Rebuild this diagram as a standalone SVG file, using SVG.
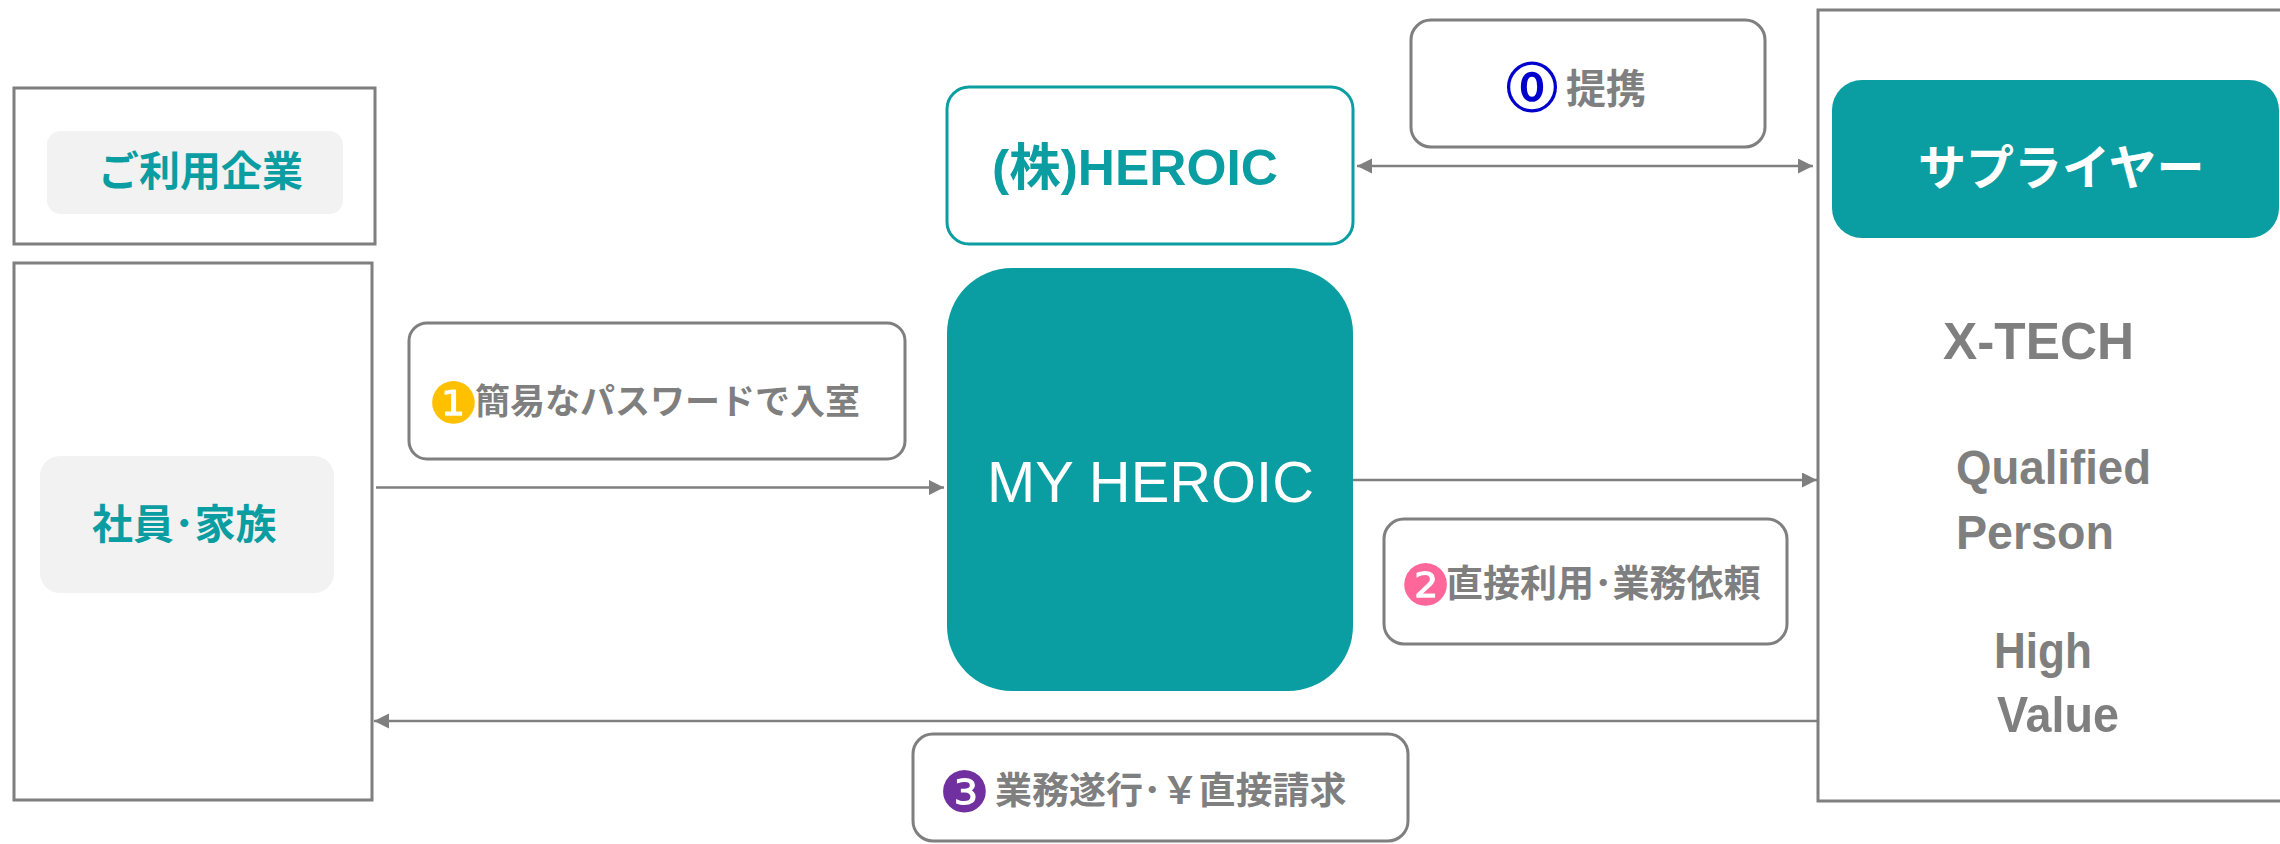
<svg xmlns="http://www.w3.org/2000/svg" width="2280" height="844" viewBox="0 0 2280 844">
<style>
.frame{fill:#ffffff;stroke:#7f7f7f;stroke-width:3}
.label{fill:#ffffff;stroke:#7f7f7f;stroke-width:3}
.chip{fill:#f2f2f2;stroke:none}
.teal{fill:#0a9da2;stroke:none}
.conn{stroke:#7f7f7f;stroke-width:2.5;fill:none}
.jp{font-family:"Noto Sans CJK JP","Noto Sans CJK SC",sans-serif;font-weight:bold}
.lat{font-family:"Liberation Sans","Noto Sans CJK JP",sans-serif}
.num{font-family:"DejaVu Sans","Noto Sans CJK JP",sans-serif;font-weight:normal}
.gray{fill:#7f7f7f}
.tc{fill:#0a9da2}
.wt{fill:#ffffff}
</style>
<defs>
<marker id="ah" markerUnits="userSpaceOnUse" markerWidth="16" markerHeight="16" refX="15" refY="7.5" orient="auto-start-reverse">
<path d="M0,0 L15,7.5 L0,15 Z" fill="#7f7f7f"/>
</marker>
</defs>

<g id="connectors">
<line class="conn" x1="1357" y1="166" x2="1813" y2="166" marker-start="url(#ah)" marker-end="url(#ah)"/>
<line class="conn" x1="376" y1="487.5" x2="944" y2="487.5" marker-end="url(#ah)"/>
<line class="conn" x1="1353" y1="480" x2="1817" y2="480" marker-end="url(#ah)"/>
<line class="conn" x1="1818" y1="721" x2="374" y2="721" marker-end="url(#ah)"/>
</g>

<g id="company">
<rect class="frame" x="14" y="88" width="361" height="156"/>
<rect class="chip" x="47" y="131" width="296" height="83" rx="14"/>
<text class="jp tc" x="98" y="186" font-size="41">ご利用企業</text>
</g>

<g id="employees">
<rect class="frame" x="14" y="263" width="358" height="537" fill="none"/>
<rect class="chip" x="40" y="456" width="294" height="137" rx="20"/>
<text class="jp tc" x="92" y="539" font-size="41">社員･家族</text>
</g>

<g id="step1">
<rect class="label" x="409" y="323" width="496" height="136" rx="18"/>
<text class="jp gray" font-size="35"><tspan class="num" x="428" y="423" font-size="57" fill="#ffc000">❶</tspan><tspan x="475" y="414">簡易なパスワードで入室</tspan></text>
</g>

<g id="heroic">
<rect x="947" y="87" width="406" height="157" rx="22" fill="#ffffff" stroke="#0a9da2" stroke-width="3"/>
<text class="lat tc" font-weight="bold" x="992" y="185" font-size="50" textLength="286" lengthAdjust="spacingAndGlyphs">(株)HEROIC</text>
</g>

<g id="myheroic">
<rect class="teal" x="947" y="268" width="406" height="423" rx="65"/>
<text class="lat wt" x="987" y="501.5" font-size="58" textLength="327" lengthAdjust="spacingAndGlyphs">MY HEROIC</text>
</g>

<g id="step0">
<rect class="label" x="1411" y="20" width="354" height="127" rx="20"/>
<text class="jp gray" font-size="40"><tspan class="num" x="1506" y="106.5" font-size="52" fill="#0000cc" stroke="#0000cc" stroke-width="1.6">⓪</tspan><tspan x="1560" y="103"> </tspan><tspan x="1566" y="103">提携</tspan></text>
</g>

<g id="step2">
<rect class="label" x="1384" y="519" width="403" height="125" rx="20"/>
<text class="jp gray" font-size="37"><tspan class="num" x="1400" y="604.5" font-size="57" fill="#ff6699">❷</tspan><tspan x="1446" y="597">直接利用･業務依頼</tspan></text>
</g>

<g id="step3">
<rect class="label" x="913" y="734" width="495" height="107" rx="20"/>
<text class="jp gray" font-size="37"><tspan class="num" x="939" y="811.5" font-size="57" fill="#7030a0">❸</tspan><tspan x="985" y="804"> </tspan><tspan x="995" y="804">業務遂行･￥直接請求</tspan></text>
</g>

<g id="supplier">
<rect class="frame" x="1818" y="10" width="500" height="791"/>
<rect class="teal" x="1832" y="80" width="447" height="158" rx="30"/>
<text class="jp wt" x="1918" y="185" font-size="48">サプライヤー</text>
<text class="lat gray" font-weight="bold" x="1943" y="359.3" font-size="51" textLength="191" lengthAdjust="spacingAndGlyphs">X-TECH</text>
<text class="lat gray" font-weight="bold" x="1956" y="484" font-size="49" textLength="195" lengthAdjust="spacingAndGlyphs">Qualified</text>
<text class="lat gray" font-weight="bold" x="1956" y="549" font-size="49" textLength="158" lengthAdjust="spacingAndGlyphs">Person</text>
<text class="lat gray" font-weight="bold" x="1994" y="667.7" font-size="50" textLength="98" lengthAdjust="spacingAndGlyphs">High</text>
<text class="lat gray" font-weight="bold" x="1997" y="731.7" font-size="50" textLength="122" lengthAdjust="spacingAndGlyphs">Value</text>
</g>
</svg>
